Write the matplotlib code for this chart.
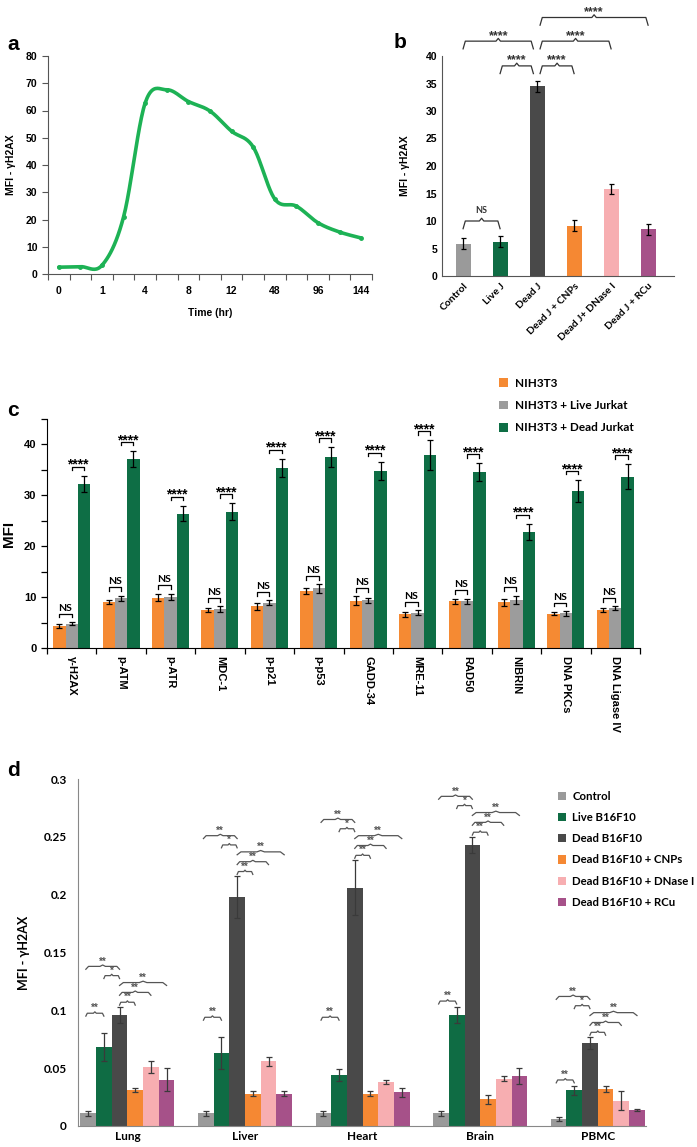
import numpy as np
import matplotlib.pyplot as plt
from matplotlib.ticker import MultipleLocator, FixedLocator, NullFormatter, FixedFormatter

ARIAL = 'Liberation Sans'
CALIBRI = 'Lato'

# ---------------- data ----------------
# a: time course
a_ticklabels = ['0', '1', '4', '8', '12', '48', '96', '144']
a_values = [2.5, 2.7, 3.2, 21.0, 62.8, 67.6, 63.3, 59.8, 52.4, 46.6, 27.5, 24.9, 18.8, 15.4, 13.2]

# b: treatments
b_groups = ['Control', 'Live J', 'Dead J', 'Dead J + CNPs', 'Dead J+ DNase I', 'Dead J + RCu']
b_values = [5.9, 6.2, 34.5, 9.1, 15.9, 8.5]
b_err = [1.0, 1.0, 1.0, 1.0, 0.9, 1.0]
b_pairs = [(0, 1), (1, 2), (2, 3), (0, 2), (2, 4), (2, 5)]
b_pair_y = [10.0, 38.2, 38.2, 42.7, 42.7, 47.0]
b_pair_txt = ['NS', '****', '****', '****', '****', '****']

# c: DDR markers
c_markers = ['γ-H2AX', 'p-ATM', 'p-ATR', 'MDC-1', 'p-p21', 'p-p53', 'GADD-34',
             'MRE-11', 'RAD50', 'NIBRIN', 'DNA PKCs', 'DNA Ligase IV']
c_series = ['NIH3T3', 'NIH3T3 + Live Jurkat', 'NIH3T3 + Dead Jurkat']
c_nih = [4.4, 9.1, 9.9, 7.4, 8.2, 11.2, 9.3, 6.6, 9.2, 9.0, 6.7, 7.5]
c_nih_err = [0.4, 0.4, 0.7, 0.4, 0.7, 0.5, 0.9, 0.5, 0.5, 0.7, 0.3, 0.4]
c_live = [4.8, 9.8, 10.1, 7.6, 8.9, 11.7, 9.4, 6.9, 9.2, 9.5, 6.8, 7.8]
c_live_err = [0.3, 0.5, 0.6, 0.6, 0.5, 0.8, 0.5, 0.5, 0.5, 0.8, 0.5, 0.4]
c_dead = [32.2, 37.1, 26.4, 26.8, 35.4, 37.5, 34.8, 37.9, 34.6, 22.8, 30.8, 33.7]
c_dead_err = [1.6, 1.6, 1.5, 1.6, 1.8, 1.9, 1.8, 2.9, 1.7, 1.6, 2.2, 2.4]

# d: tissues
d_tissues = ['Lung', 'Liver', 'Heart', 'Brain', 'PBMC']
d_series = ['Control', 'Live B16F10', 'Dead B16F10', 'Dead B16F10 + CNPs',
            'Dead B16F10 + DNase I', 'Dead B16F10 + RCu']
d_control = [0.011, 0.011, 0.011, 0.011, 0.006]
d_control_err = [0.002, 0.002, 0.002, 0.002, 0.0015]
d_live = [0.068, 0.063, 0.044, 0.096, 0.031]
d_live_err = [0.012, 0.014, 0.005, 0.007, 0.004]
d_dead = [0.096, 0.198, 0.206, 0.243, 0.072]
d_dead_err = [0.007, 0.018, 0.024, 0.007, 0.005]
d_cnps = [0.031, 0.028, 0.028, 0.023, 0.032]
d_cnps_err = [0.002, 0.002, 0.002, 0.004, 0.003]
d_dnase = [0.051, 0.056, 0.038, 0.041, 0.022]
d_dnase_err = [0.005, 0.004, 0.002, 0.002, 0.008]
d_rcu = [0.040, 0.028, 0.029, 0.043, 0.014]
d_rcu_err = [0.010, 0.002, 0.004, 0.007, 0.001]
d_ctrl_live_y = [0.0975, 0.094, 0.094, 0.108, 0.0398]
# (from, to, label) series index pairs stacked above the dead bar
d_pairs = [(2, 3, '**'), (2, 4, '**'), (2, 5, '**'), (1, 2, '*'), (0, 2, '**')]
d_pair_off = [0.004, 0.0125, 0.021, 0.027, 0.035]

b_colors = ['#9a9a9a', '#0f6c44', '#494949', '#f58833', '#f7aeb1', '#a65189']
c_colors = ['#f58a33', '#9c9c9c', '#0e6e45']


def smooth(x, y, n=24):
    # Excel-style smoothed line (cubic bezier / catmull-rom)
    pts = np.column_stack([x, y]).astype(float)
    ext = np.vstack([pts[0], pts, pts[-1]])
    out = []
    t = np.linspace(0, 1, n)[:, None]
    for i in range(len(pts) - 1):
        p0, p1, p2, p3 = ext[i], ext[i + 1], ext[i + 2], ext[i + 3]
        c1 = p1 + (p2 - p0) / 6
        c2 = p2 - (p3 - p1) / 6
        seg = (1 - t) ** 3 * p1 + 3 * (1 - t) ** 2 * t * c1 + 3 * (1 - t) * t ** 2 * c2 + t ** 3 * p2
        out.append(seg if i == 0 else seg[1:])
    s = np.vstack(out)
    return s[:, 0], s[:, 1]


def brace(ax, x0, x1, y, leg, notch, txt, color, fs, pad, lw=0.9, fam=ARIAL):
    xm = (x0 + x1) / 2
    d = 0.08 * (x1 - x0)
    d = min(d, 0.06)
    xs = [x0, x0 + d, xm - d, xm, xm + d, x1 - d, x1]
    ys = [y - leg, y, y, y + notch, y, y, y - leg]
    ax.plot(xs, ys, color=color, lw=lw, clip_on=False, solid_joinstyle='round')
    ax.text(xm, y + notch + pad, txt, ha='center', va='bottom', fontsize=fs,
            fontweight='bold', color=color, family=fam, clip_on=False)


fig = plt.figure(figsize=(6.97, 11.47), dpi=100)
W, H = 697, 1147


def add_axes(l, r, b, t):
    return fig.add_axes([l / W, 1 - b / H, (r - l) / W, (b - t) / H])


# ---------------- panel a ----------------
ax = add_axes(48, 372, 274, 56)
xa = np.arange(len(a_values))
sx, sy = smooth(xa, a_values)
ax.plot(sx, sy, color='#1db255', lw=2.6, solid_capstyle='round')
ax.plot(xa, a_values, 'o', color='#1db255', ms=2.5)
ax.set_xlim(-0.5, len(a_values) - 0.5)
ax.set_ylim(0, 80)
ax.yaxis.set_major_locator(MultipleLocator(10))
ax.xaxis.set_major_locator(FixedLocator(np.arange(-0.5, len(a_values), 1)))
ax.xaxis.set_major_formatter(NullFormatter())
ax.xaxis.set_minor_locator(FixedLocator(np.arange(0, len(a_values), 2)))
ax.xaxis.set_minor_formatter(FixedFormatter(a_ticklabels))
ax.tick_params(axis='x', which='minor', length=0, pad=9)
ax.tick_params(axis='both', which='major', length=4, width=0.8, color='#555555')
for s in ['top', 'right']:
    ax.spines[s].set_visible(False)
for s in ['left', 'bottom']:
    ax.spines[s].set_color('#555555')
for lab in ax.get_xticklabels(minor=True) + ax.get_yticklabels():
    lab.set_fontsize(7.5)
    lab.set_fontweight('bold')
    lab.set_family(ARIAL)
ax.set_xlabel('Time (hr)', fontsize=7.5, fontweight='bold', family=ARIAL, labelpad=8)
ax.set_ylabel('MFI - γH2AX', fontsize=7.5, fontweight='bold', family=ARIAL, labelpad=7)

# ---------------- panel b ----------------
ax = add_axes(442, 674, 276, 56)
xb = np.arange(len(b_groups))
ax.bar(xb, b_values, width=0.41, color=b_colors)
ax.errorbar(xb, b_values, yerr=b_err, fmt='none', ecolor='black', elinewidth=0.9,
            capsize=1.8, capthick=0.9)
ax.set_xlim(-0.57, 5.7)
ax.set_ylim(0, 40)
ax.yaxis.set_major_locator(MultipleLocator(5))
ax.set_xticks(xb)
ax.set_xticklabels(b_groups, rotation=45, ha='right', rotation_mode='anchor',
                   fontsize=7.5, fontweight='bold', family=CALIBRI)
ax.tick_params(axis='both', length=0)
ax.tick_params(axis='x', pad=4)
for lab in ax.get_yticklabels():
    lab.set_fontsize(7.5)
    lab.set_fontweight('bold')
    lab.set_family(ARIAL)
for s in ['top', 'right']:
    ax.spines[s].set_visible(False)
for s in ['left', 'bottom']:
    ax.spines[s].set_color('#555555')
ax.set_ylabel('MFI - γH2AX', fontsize=7.5, fontweight='bold', family=ARIAL, labelpad=11)
for (i, j), y, txt in zip(b_pairs, b_pair_y, b_pair_txt):
    x0 = xb[i] + (0.08 if i == 2 else 0)
    x1 = xb[j] - (0.1 if j == 2 else 0)
    if txt == 'NS':
        brace(ax, x0, x1, y, 1.4, 0.5, txt, '#333333', 6.5, 0.6, fam=CALIBRI)
    else:
        brace(ax, x0, x1, y, 1.4, 0.5, txt, '#333333', 9, -0.6)

# ---------------- panel c ----------------
ax = add_axes(47, 640, 648, 419)
xc = np.arange(len(c_markers)) + 0.5
bw = 0.25
c_vals = [c_nih, c_live, c_dead]
c_errs = [c_nih_err, c_live_err, c_dead_err]
for k in range(3):
    xk = xc + (k - 1) * bw
    ax.bar(xk, c_vals[k], width=bw, color=c_colors[k], label=c_series[k])
    ax.errorbar(xk, c_vals[k], yerr=c_errs[k], fmt='none', ecolor='black',
                elinewidth=0.9, capsize=2, capthick=0.9)
for g in range(len(c_markers)):
    # NS between NIH3T3 and live, **** between live and dead
    y_ns = max(c_nih[g] + c_nih_err[g], c_live[g] + c_live_err[g]) + 1.6
    xa0, xa1 = xc[g] - bw, xc[g]
    ax.plot([xa0, xa0, xa1, xa1], [y_ns - 0.7, y_ns, y_ns, y_ns - 0.7], color='black', lw=0.9)
    ax.text((xa0 + xa1) / 2, y_ns + 0.2, 'NS', ha='center', va='bottom', fontsize=7.5,
            fontweight='bold', family=CALIBRI)
    y_st = c_dead[g] + c_dead_err[g] + 1.8
    xb0, xb1 = xc[g], xc[g] + bw
    ax.plot([xb0, xb0, xb1, xb1], [y_st - 0.7, y_st, y_st, y_st - 0.7], color='black', lw=0.9)
    ax.text((xb0 + xb1) / 2, y_st - 1.0, '****', ha='center', va='bottom', fontsize=10,
            fontweight='bold', family=ARIAL)
ax.set_xlim(0, len(c_markers))
ax.set_ylim(0, 45)
ax.yaxis.set_major_locator(MultipleLocator(10))
ax.yaxis.set_minor_locator(MultipleLocator(5))
ax.set_xticks(np.arange(0, len(c_markers) + 1))
ax.set_xticklabels([])
ax.set_xticks(xc, minor=True)
ax.set_xticklabels(c_markers, minor=True, rotation=270, va='top', ha='center',
                   fontsize=8, fontweight='bold', family=ARIAL)
ax.tick_params(axis='x', which='minor', length=0, pad=6)
ax.tick_params(axis='both', which='both', length=4, width=0.9, color='black')
ax.tick_params(axis='x', which='minor', length=0)
for lab in ax.get_yticklabels():
    lab.set_fontsize(8)
    lab.set_fontweight('bold')
    lab.set_family(ARIAL)
for s in ['top', 'right']:
    ax.spines[s].set_visible(False)
ax.set_ylabel('MFI', fontsize=11, fontweight='bold', family=ARIAL, labelpad=6)
ax.legend(loc='upper left', bbox_to_anchor=(493 / W, 1 - 372 / H),
          bbox_transform=fig.transFigure, frameon=False, borderpad=0,
          handlelength=0.75, handleheight=0.75, handletextpad=0.6, labelspacing=0.95,
          prop={'family': CALIBRI, 'weight': 'bold', 'size': 8.5})

# ---------------- panel d ----------------
ax = add_axes(78, 646, 1126, 779)
xd = np.arange(len(d_tissues))
dw = 0.8 / 6
d_vals = [d_control, d_live, d_dead, d_cnps, d_dnase, d_rcu]
d_errs = [d_control_err, d_live_err, d_dead_err, d_cnps_err, d_dnase_err, d_rcu_err]
for k in range(6):
    xk = xd + (k - 2.5) * dw
    ax.bar(xk, d_vals[k], width=dw, color=b_colors[k], label=d_series[k])
    ax.errorbar(xk, d_vals[k], yerr=d_errs[k], fmt='none', ecolor='#3a3a3a',
                elinewidth=0.9, capsize=2, capthick=0.9)
for g in range(len(d_tissues)):
    pos = [xd[g] + (k - 2.5) * dw for k in range(6)]
    brace(ax, pos[0] - 0.02, pos[1], d_ctrl_live_y[g], 0.0025, 0.0012, '**',
          '#555555', 7, -0.0012, fam=ARIAL)
    top = d_dead[g] + d_dead_err[g]
    for (i, j, txt), off in zip(d_pairs, d_pair_off):
        x0, x1 = pos[i], pos[j]
        if i == 0:
            x0 -= 0.02
        brace(ax, x0, x1, top + off, 0.0025, 0.0012, txt, '#555555', 7, -0.0012, fam=ARIAL)
ax.set_xlim(-0.42, 4.41)
ax.set_ylim(0, 0.3)
ax.set_yticks([0, 0.05, 0.1, 0.15, 0.2, 0.25, 0.3])
ax.set_yticklabels(['0', '0.05', '0.1', '0.15', '0.2', '0.25', '0.3'])
ax.set_xticks(xd)
ax.set_xticklabels(d_tissues, fontsize=8.5, fontweight='bold', family=CALIBRI)
ax.tick_params(axis='both', length=0)
ax.tick_params(axis='y', pad=8)
for lab in ax.get_yticklabels():
    lab.set_fontsize(8.5)
    lab.set_fontweight('bold')
    lab.set_family(CALIBRI)
for s in ['top', 'right']:
    ax.spines[s].set_visible(False)
for s in ['left', 'bottom']:
    ax.spines[s].set_color('#888888')
ax.set_ylabel('MFI - γH2AX', fontsize=9, fontweight='bold', family=CALIBRI, labelpad=10)
ax.legend(loc='upper left', bbox_to_anchor=(552 / W, 1 - 785 / H),
          bbox_transform=fig.transFigure, frameon=False, borderpad=0,
          handlelength=0.75, handleheight=0.75, handletextpad=0.55, labelspacing=0.9,
          prop={'family': CALIBRI, 'weight': 'bold', 'size': 8.2})

# panel letters
for txt, x, y in [('a', 7, 44), ('b', 400, 43), ('c', 7, 410), ('d', 7, 771)]:
    fig.text(x / W, 1 - y / H, txt, fontsize=15, fontweight='bold', family=ARIAL,
             va='center', ha='center' if txt == 'b' else 'left')

fig.savefig('out.png', dpi=100)
